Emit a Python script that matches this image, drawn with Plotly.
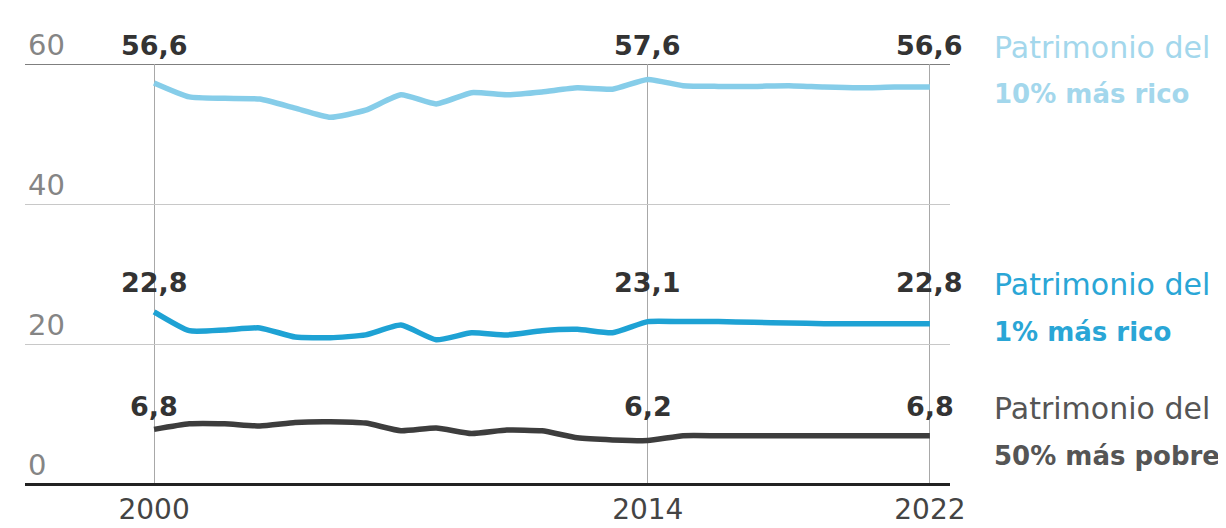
import plotly.graph_objects as go

years = list(range(2000, 2023))
top10 = [57.3, 55.3, 55.1, 55.0, 53.7, 52.4, 53.4, 55.6, 54.3, 55.9, 55.6, 56.0, 56.6, 56.4,
         57.8, 56.9, 56.8, 56.8, 56.9, 56.7, 56.6, 56.7, 56.7]
top1 = [24.6, 21.9, 22.0, 22.3, 21.0, 20.9, 21.3, 22.7, 20.6, 21.6, 21.3, 21.9, 22.1, 21.6,
        23.2, 23.2, 23.2, 23.1, 23.0, 22.9, 22.9, 22.9, 22.9]
bottom50 = [7.8, 8.6, 8.6, 8.3, 8.8, 8.9, 8.7, 7.6, 8.0, 7.2, 7.7, 7.6, 6.6, 6.3,
            6.2, 6.9, 6.9, 6.9, 6.9, 6.9, 6.9, 6.9, 6.9]

label_years = [2000, 2014, 2022]
top10_labels = ["56,6", "57,6", "56,6"]
top1_labels = ["22,8", "23,1", "22,8"]
bottom50_labels = ["6,8", "6,2", "6,8"]

series_line1 = ["Patrimonio del", "Patrimonio del", "Patrimonio del"]
series_line2 = ["10% más rico", "1% más rico", "50% más pobre"]

y_ticks = [0, 20, 40, 60]
x_ticks = [2000, 2014, 2022]

FONT = "DejaVu Sans, Liberation Sans, sans-serif"

series = [
    dict(y=top10, labels=top10_labels, color="#86cde9", text_color="#a3d7ec", yshift=34),
    dict(y=top1, labels=top1_labels, color="#1ea2d4", text_color="#2aa6d6", yshift=29),
    dict(y=bottom50, labels=bottom50_labels, color="#3d3d3d", text_color="#555555", yshift=15),
]

fig = go.Figure()
annotations = []
for i, s in enumerate(series):
    fig.add_trace(go.Scatter(
        x=years, y=s["y"], mode="lines",
        line=dict(color=s["color"], width=5.5, shape="spline", smoothing=0.5),
        hoverinfo="skip", showlegend=False, cliponaxis=False,
    ))
    ymax = max(s["y"])
    for yr, lab in zip(label_years, s["labels"]):
        annotations.append(dict(
            x=yr, y=ymax, yshift=s["yshift"], text=f"<b>{lab}</b>", showarrow=False,
            xanchor="center", yanchor="middle",
            font=dict(family=FONT, size=27, color="#333333"),
        ))
    annotations.append(dict(
        x=years[-1], y=ymax, xshift=62, yshift=s["yshift"] - 2, text=series_line1[i],
        showarrow=False, xanchor="left", yanchor="middle",
        font=dict(family=FONT, size=30, color=s["text_color"]),
    ))
    annotations.append(dict(
        x=years[-1], y=ymax, xshift=62, yshift=s["yshift"] - 49, text=f"<b>{series_line2[i]}</b>",
        showarrow=False, xanchor="left", yanchor="middle",
        font=dict(family=FONT, size=26, color=s["text_color"]),
    ))

for t in y_ticks:
    annotations.append(dict(
        xref="paper", x=0, y=t, yshift=19, xshift=1, text=str(t), showarrow=False,
        xanchor="left", yanchor="middle",
        font=dict(family=FONT, size=29, color="#858585"),
    ))

shapes = [
    dict(type="line", xref="paper", x0=0, x1=1, y0=y_ticks[-1], y1=y_ticks[-1],
         line=dict(color="#555555", width=1.5), layer="below"),
]

fig.update_layout(
    width=1218, height=520,
    margin=dict(l=17, r=276, t=56, b=44),
    paper_bgcolor="white", plot_bgcolor="white",
    annotations=annotations, shapes=shapes,
    xaxis=dict(
        range=[1996.34, 2022.57], tickvals=x_ticks, ticktext=[str(x) for x in x_ticks],
        showgrid=True, gridcolor="#a8a8a8", gridwidth=1, zeroline=False,
        showline=False, ticks="", ticklabelstandoff=6, automargin=False,
        tickfont=dict(family=FONT, size=28, color="#444444"),
    ),
    yaxis=dict(
        range=[0, 60], tickvals=y_ticks, showticklabels=False, automargin=False,
        showgrid=True, gridcolor="#c8c8c8", gridwidth=1,
        zeroline=True, zerolinecolor="#222222", zerolinewidth=3,
    ),
)

fig.write_html("out.html")
